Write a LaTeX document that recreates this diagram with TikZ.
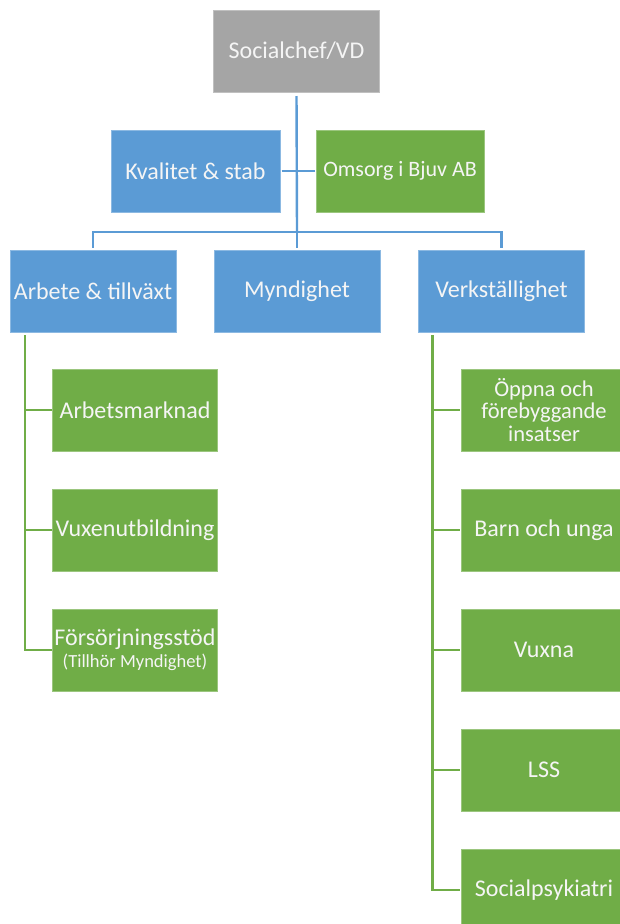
\documentclass[tikz,border=0pt]{standalone}
\usepackage{fontspec}
\setmainfont{Carlito}
\definecolor{cgray}{HTML}{A5A5A5}
\definecolor{cblue}{HTML}{5B9BD5}
\definecolor{cgreen}{HTML}{70AD47}
\tikzset{
  box/.style={draw=#1!70!white, fill=#1, line width=0.8pt, text=white!96!black, minimum width=166pt, minimum height=82pt, inner sep=1pt, outer sep=0pt, align=center, font=\fontsize{24}{23}\selectfont},
  blueline/.style={draw=cblue, line width=2.4pt},
  greenline/.style={draw=cgreen, line width=2.4pt}
}
\begin{document}
\begin{tikzpicture}[x=1pt,y=-1pt]
\useasboundingbox (0,0) rectangle (620,924);
\clip (0,0) rectangle (620,924);
\node[box=cgray] (soc) at (296.5,51) {Socialchef/VD};
\node[box=cblue, minimum width=169pt] (kval) at (195.5,171) {Kvalitet \& stab};
\node[box=cgreen, minimum width=168pt, font=\fontsize{22}{23}\selectfont] (oms) at (400,171) {Omsorg i Bjuv AB};
\node[box=cblue] (arb) at (93,291) {Arbete \& tillväxt};
\node[box=cblue] (myn) at (297,291) {Myndighet};
\node[box=cblue] (verk) at (501.5,291) {Verkställighet};
\node[box=cgreen, minimum width=165pt] (am) at (135,410) {Arbetsmarknad};
\node[box=cgreen, minimum width=165pt] (vux) at (135,530) {Vuxenutbildning};
\node[box=cgreen, minimum width=165pt] (fors) at (135,650) {Försörjningsstöd\\[-1pt]{\fontsize{18.5}{20}\selectfont(Tillhör Myndighet)}};
\node[box=cgreen, font=\fontsize{22.5}{22.5}\selectfont] (opp) at (544,410) {Öppna och\\förebyggande\\insatser};
\node[box=cgreen] (barn) at (544,530) {Barn och unga};
\node[box=cgreen] (vuxna) at (544,650) {Vuxna};
\node[box=cgreen] (lss) at (544,770) {LSS};
\node[box=cgreen] (sps) at (544,890) {Socialpsykiatri};
\coordinate (bar) at (297,232);
% blue connectors
\draw[blueline, shorten <=4pt] (soc.south) -- (bar);
\draw[blueline, shorten <=1.5pt, shorten >=1.5pt] (kval.east) -- (oms.west);
\draw[blueline, shorten >=2pt] (bar) -| (arb.north);
\draw[blueline, shorten >=2pt] (bar) -- (myn.north);
\draw[blueline, shorten >=2pt] (bar) -| (verk.north);
% green connectors
\foreach \t in {am,vux,fors}{
  \draw[greenline, shorten >=1pt] ([xshift=15pt,yshift=-3pt]arb.south west) |- (\t.west);
}
\foreach \t in {opp,barn,vuxna,lss,sps}{
  \draw[greenline, shorten >=1pt] ([xshift=14pt,yshift=-3pt]verk.south west) |- (\t.west);
}
\end{tikzpicture}
\end{document}
